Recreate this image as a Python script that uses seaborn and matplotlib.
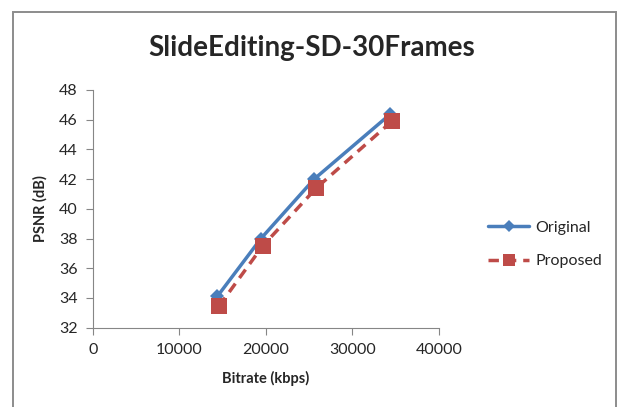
import matplotlib
matplotlib.use("Agg")
import matplotlib.pyplot as plt
import seaborn as sns
import pandas as pd
from matplotlib.patches import Rectangle

# Valeurs
bitrate_original = [14400, 19450, 25600, 34350]
psnr_original = [34.1, 38.0, 42.0, 46.35]
bitrate_proposed = [14600, 19650, 25850, 34600]
psnr_proposed = [33.45, 37.5, 41.4, 45.9]
x_ticks = [0, 10000, 20000, 30000, 40000]
y_ticks = [32, 34, 36, 38, 40, 42, 44, 46, 48]

df_orig = pd.DataFrame({"Bitrate": bitrate_original, "PSNR": psnr_original})
df_prop = pd.DataFrame({"Bitrate": bitrate_proposed, "PSNR": psnr_proposed})

sns.set_style("white")
plt.rcParams["font.family"] = ["Lato", "DejaVu Sans"]

fig = plt.figure(figsize=(6.18, 4.07), dpi=100)
ax = fig.add_axes([0.150, 0.195, 0.560, 0.584])

sns.lineplot(data=df_orig, x="Bitrate", y="PSNR", ax=ax, color="#4A7EBB", linewidth=2.5,
             marker="D", markersize=7, markeredgewidth=0, label="Original")
sns.lineplot(data=df_prop, x="Bitrate", y="PSNR", ax=ax, color="#BE4B48", linewidth=2.5,
             linestyle=(0, (3, 2)), marker="s", markersize=11, markeredgewidth=0, label="Proposed")

ax.set_xlim(0, 40000)
ax.set_ylim(32, 48)
ax.set_xticks(x_ticks)
ax.set_yticks(y_ticks)
ax.tick_params(axis="both", labelsize=11.5, length=5, width=0.8, color="#868686",
               direction="out", left=True, bottom=True, pad=6)
for side in ["top", "right"]:
    ax.spines[side].set_visible(False)
for side in ["left", "bottom"]:
    ax.spines[side].set_color("#868686")
    ax.spines[side].set_linewidth(0.8)

ax.set_xlabel("Bitrate (kbps)", fontsize=10.5, fontweight="bold", labelpad=10)
ax.set_ylabel("PSNR (dB)", fontsize=10.5, fontweight="bold", labelpad=8)
fig.suptitle("SlideEditing-SD-30Frames", fontsize=20, fontweight="bold", x=0.505, y=0.915)

ax.legend(loc="center left", bbox_to_anchor=(1.10, 0.35), frameon=False, fontsize=11.5,
          handlelength=2.6, labelspacing=1.2, handletextpad=0.4, markerscale=0.85)

fig.patches.append(Rectangle((0.021, -0.01), 0.975, 0.981, transform=fig.transFigure,
                             fill=False, edgecolor="#8C8C8C", linewidth=1.4))

fig.savefig("out.png", dpi=100)
